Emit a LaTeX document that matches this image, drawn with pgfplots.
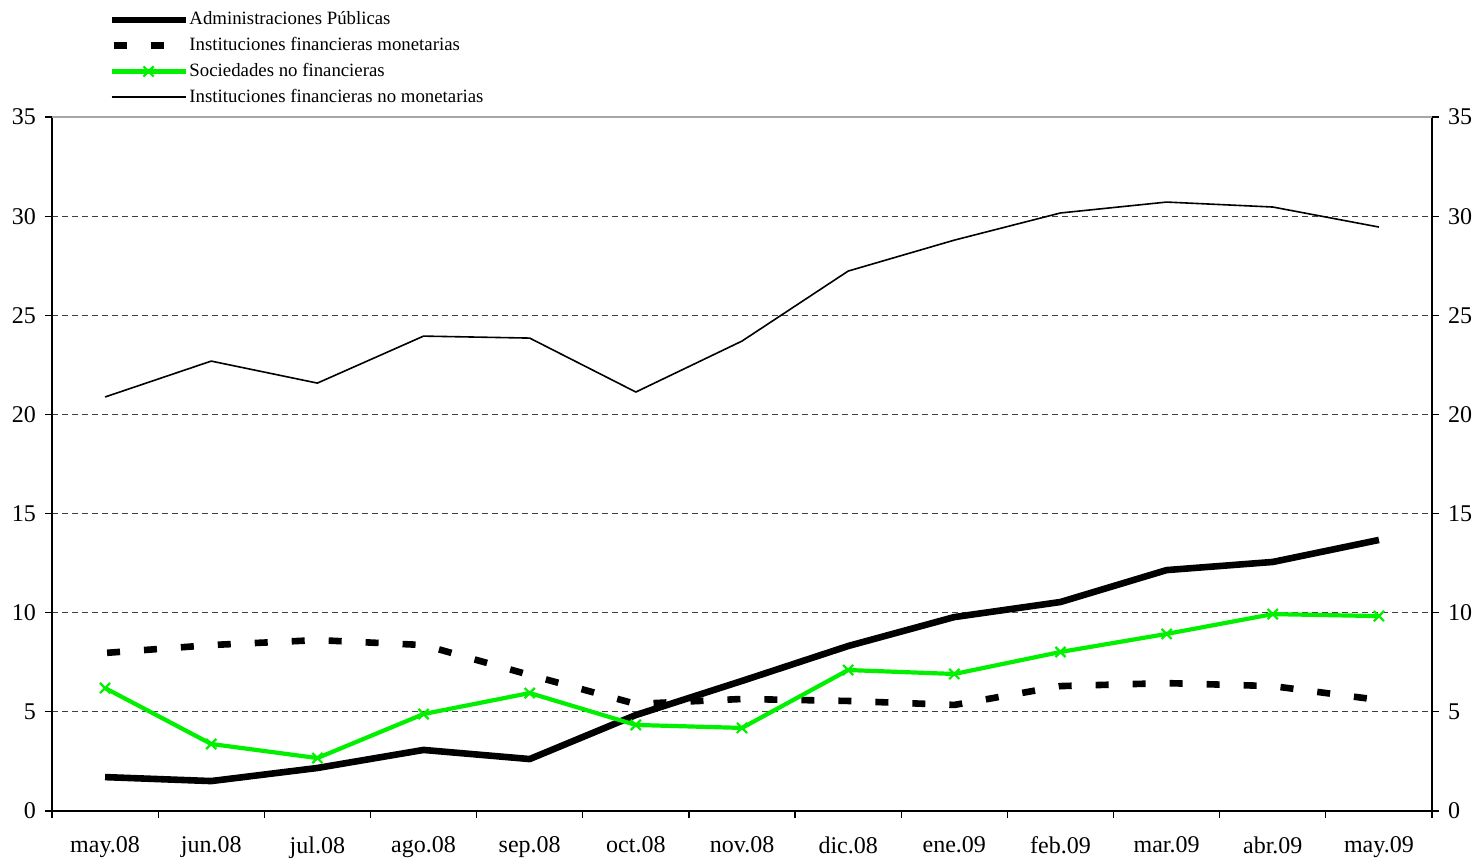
\documentclass[border=0pt]{standalone}
\usepackage{fontspec}
\setmainfont{Liberation Serif}
\usepackage{pgfplots}
\pgfplotsset{compat=1.18}
\definecolor{lime}{RGB}{0,240,0}
\begin{document}
\begin{tikzpicture}
\useasboundingbox (-26pt,-23.5pt) rectangle (710pt,405.5pt);
\begin{axis}[
  name=ax,
  scale only axis, width=690pt, height=347pt,
  xmin=-0.5, xmax=12.5, ymin=0, ymax=35,
  axis x line*=bottom, axis y line*=box,
  xtick={0,...,12},
  xticklabels={may.08,jun.08,jul.08,ago.08,sep.08,oct.08,nov.08,dic.08,ene.09,feb.09,mar.09,abr.09,may.09},
  major x tick style={draw=none},
  minor xtick={-0.5,0.5,...,12.5},
  ytick={0,5,...,35},
  ytick pos=left,
  tick align=outside,
  major tick length=3.5pt, minor tick length=3.5pt,
  tick style={black, line width=0.6pt},
  axis line style={line width=0.6pt},
  ymajorgrids,
  grid style={black!75, dash pattern=on 3pt off 2pt, line width=0.4pt},
  ticklabel style={font=\fontsize{12}{14}\selectfont},
  xticklabel style={yshift=-5.8pt},
  yticklabel style={xshift=-1pt},
  /pgf/number format/assume math mode=true,
  legend style={draw=none, fill=none, font=\fontsize{9.4}{10}\selectfont,
    at={(axis description cs:0.0405,1.153)}, anchor=north west,
    inner sep=0pt, row sep=4.2pt, nodes={inner sep=0.3pt}},
  legend cell align=left,
  legend image code/.code={\draw[mark repeat=2,mark phase=2,#1] plot coordinates {(0pt,0pt)(18.5pt,0pt)(37pt,0pt)};},
]
\addplot[black, line width=3.3pt, line join=round] coordinates {
(0,1.71)(1,1.51)(2,2.17)(3,3.08)(4,2.62)(5,4.84)(6,6.56)(7,8.32)(8,9.78)(9,10.54)(10,12.15)(11,12.56)(12,13.67)};
\addlegendentry{Administraciones Públicas}
\addplot[black, line width=3.3pt, dash pattern=on 6.5pt off 12pt, dash phase=-1pt] coordinates {
(0,7.97)(1,8.37)(2,8.62)(3,8.37)(4,6.86)(5,5.40)(6,5.65)(7,5.55)(8,5.35)(9,6.30)(10,6.45)(11,6.30)(12,5.60)};
\addlegendentry{Instituciones financieras monetarias}
\addplot[lime, line width=2.1pt, mark=x, mark size=3.6pt, mark options={line width=1.1pt}] coordinates {
(0,6.20)(1,3.38)(2,2.67)(3,4.89)(4,5.95)(5,4.34)(6,4.19)(7,7.11)(8,6.91)(9,8.02)(10,8.93)(11,9.93)(12,9.83)};
\addlegendentry{Sociedades no financieras}
\addplot[black, line width=0.8pt] coordinates {
(0,20.88)(1,22.69)(2,21.58)(3,23.95)(4,23.85)(5,21.13)(6,23.70)(7,27.23)(8,28.79)(9,30.16)(10,30.71)(11,30.46)(12,29.45)};
\addlegendentry{Instituciones financieras no monetarias}
\end{axis}
\begin{axis}[
  scale only axis, width=690pt, height=347pt,
  xmin=-0.5, xmax=12.5, ymin=0, ymax=35,
  axis x line=none, axis y line*=right,
  ytick={0,5,...,35},
  ytick pos=right, yticklabel pos=right,
  tick align=outside, major tick length=3.5pt,
  tick style={black, line width=0.6pt},
  axis line style={line width=0.6pt},
  ticklabel style={font=\fontsize{12}{14}\selectfont},
  yticklabel style={xshift=1pt},
  /pgf/number format/assume math mode=true,
]
\addplot[draw=none] coordinates {(0,0)};
\end{axis}
\draw[gray!70, line width=0.8pt] (ax.north west) -- (ax.north east);
\end{tikzpicture}
\end{document}
